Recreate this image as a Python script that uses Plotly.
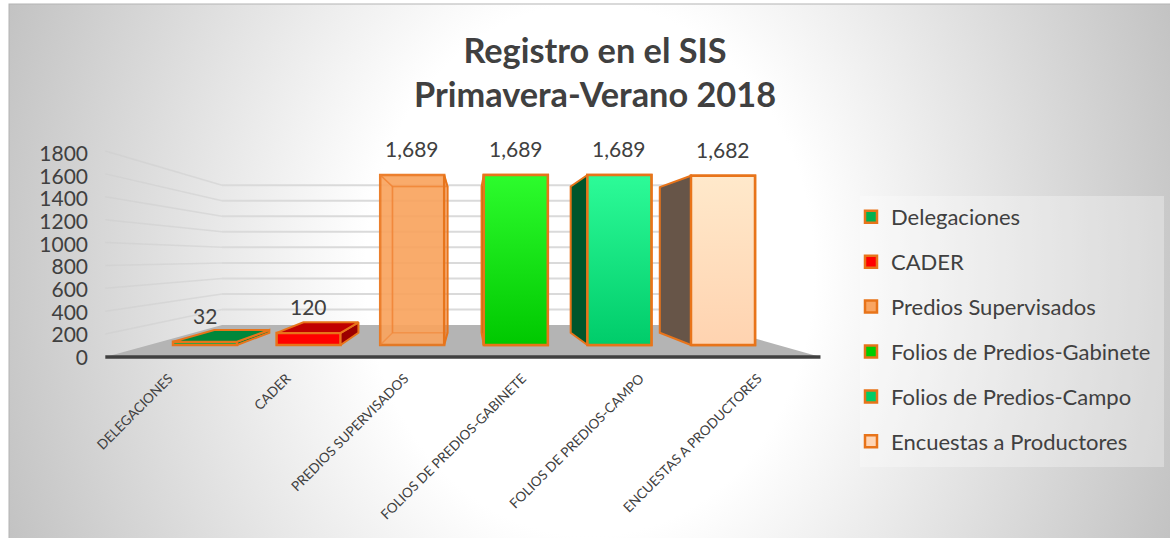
import base64
import plotly.graph_objects as go

CATEGORIES = ["DELEGACIONES", "CADER", "PREDIOS SUPERVISADOS", "FOLIOS DE PREDIOS-GABINETE",
              "FOLIOS DE PREDIOS-CAMPO", "ENCUESTAS A PRODUCTORES"]
SERIES = ["Delegaciones", "CADER", "Predios Supervisados", "Folios de Predios-Gabinete",
          "Folios de Predios-Campo", "Encuestas a Productores"]
VALUES = [32, 120, 1689, 1689, 1689, 1682]
Y_TICKS = [0, 200, 400, 600, 800, 1000, 1200, 1400, 1600, 1800]

FRONT = ["#00b050", "#ff0000", "#f9a561", "#00cc00", "#00cc66", "#ffd5b5"]
SIDE = ["#00803c", "#9c0000", "rgba(240,130,50,0.35)", "#004d12", "#00552b", "#675548"]
TOP = ["#00873b", "#c00000", "rgba(255,150,70,0.25)", "#009000", "#009050", "#e0c0a0"]
GRADIENT = {3: ("#00c800", "#2dfc2d"), 4: ("#00cc6a", "#2dfb98"), 5: ("#ffd3b0", "#ffe9cb")}
EDGE = "#e8741a"
TEXT = "#404040"
FONT = "Lato"

W, H = 1170, 538
# pixel geometry of the bar plane
PX_X0, PX_DX, PX_Y0, PX_DY = 205.0, 103.6, 345.0, 0.10065
BAR = 64 / 103.6
VX, VY = (468 - PX_X0) / PX_DX, (PX_Y0 - 257.5) / PX_DY  # vanishing point
S_AXIS, S_BACK, S_WALL = 1.137, 0.86, 0.771
X_L, X_R = (149 - PX_X0) / PX_DX, (778 - PX_X0) / PX_DX


def proj(x, v, s):
    return VX + (x - VX) * s, VY + (v - VY) * s


def path(pts):
    return "M" + " L".join(f"{a:.4f},{b:.4f}" for a, b in pts) + " Z"


svg = f"""<svg xmlns='http://www.w3.org/2000/svg' width='{W}' height='{H}'>
<defs><radialGradient id='g' gradientUnits='userSpaceOnUse' cx='0' cy='0' r='1'
 gradientTransform='translate(590 270) scale(640 760)'>
<stop offset='0' stop-color='#ffffff'/><stop offset='0.35' stop-color='#ffffff'/>
<stop offset='1' stop-color='#c0c0c0'/></radialGradient></defs>
<rect width='{W}' height='{H}' fill='#ffffff'/>
<rect x='9' y='4' width='{W}' height='{H}' fill='url(#g)' stroke='#b4b4b4' stroke-width='1'/></svg>"""
bg = "data:image/svg+xml;base64," + base64.b64encode(svg.encode()).decode()

shapes = []
# legend panel
shapes.append(dict(type="rect", xref="paper", yref="paper", layer="below",
                   x0=860 / W, x1=1164 / W, y0=1 - 467 / H, y1=1 - 196 / H,
                   fillcolor="rgba(255,255,255,0.3)", line_width=0))
# floor
floor = [proj(X_L, 0, S_AXIS), proj(X_R, 0, S_AXIS), proj(X_R, 0, S_WALL), proj(X_L, 0, S_WALL)]
shapes.append(dict(type="path", layer="below", path=path(floor), fillcolor="#b4b4b4", line_width=0))
# gridlines on the side and back walls
for t in Y_TICKS[1:]:
    a, b, c = proj(X_L, t, S_AXIS), proj(X_L, t, S_WALL), proj(X_R, t, S_WALL)
    shapes.append(dict(type="line", layer="below", x0=a[0], y0=a[1], x1=b[0], y1=b[1],
                       line=dict(color="rgba(205,205,205,0.55)", width=1.5)))
    shapes.append(dict(type="line", layer="below", x0=b[0], y0=b[1], x1=c[0], y1=c[1],
                       line=dict(color="#dadada", width=2)))
# axis base line
a, b = proj(X_L, 0, S_AXIS), proj(X_R, 0, S_AXIS)
shapes.append(dict(type="line", layer="below", x0=a[0], y0=a[1], x1=b[0], y1=b[1],
                   line=dict(color="#404040", width=3.5)))

fig = go.Figure()

# front faces are real bars and carry the legend
for i, (name, v) in enumerate(zip(SERIES, VALUES)):
    fig.add_trace(go.Bar(x=[i], y=[v], width=BAR, name=name, legendgroup=name,
                         marker=dict(color=FRONT[i], line=dict(color=EDGE, width=2.5),
                                     opacity=1 if i != 2 else 0.92),
                         hoverinfo="skip"))


def face(pts, fill, line=EDGE, width=2.0):
    xs = [p[0] for p in pts] + [pts[0][0]]
    ys = [p[1] for p in pts] + [pts[0][1]]
    fig.add_trace(go.Scatter(x=xs, y=ys, mode="lines", fill="toself", fillcolor=fill,
                             line=dict(color=line, width=width), showlegend=False, hoverinfo="skip"))


for i, v in enumerate(VALUES):
    l, r = i - BAR / 2, i + BAR / 2
    if i == 2:
        soft = "rgba(240,130,50,0.55)"
        face([proj(l, 0, S_BACK), proj(r, 0, S_BACK), proj(r, v, S_BACK), proj(l, v, S_BACK)],
             "rgba(255,150,70,0.05)", soft, 1.5)
        face([proj(l, 0, 1), proj(l, 0, S_BACK), proj(l, v, S_BACK), proj(l, v, 1)],
             "rgba(255,150,70,0.05)", soft, 1.5)
        face([proj(l, v, 1), proj(r, v, 1), proj(r, v, S_BACK), proj(l, v, S_BACK)],
             "rgba(255,150,70,0.05)", soft, 1.5)
    side_x = r if r < VX else l
    face([proj(side_x, 0, 1), proj(side_x, 0, S_BACK), proj(side_x, v, S_BACK), proj(side_x, v, 1)], SIDE[i])
    if i < 2:
        face([proj(l, v, 1), proj(r, v, 1), proj(r, v, S_BACK), proj(l, v, S_BACK)], TOP[i])
    if i in GRADIENT:
        lo, hi = GRADIENT[i]
        xs = [l, r, r, l, l]
        ys = [0, 0, v, v, 0]
        fig.add_trace(go.Scatter(x=xs, y=ys, mode="lines", fill="toself",
                                 fillgradient=dict(type="vertical", colorscale=[[0, lo], [1, hi]]),
                                 line=dict(color=EDGE, width=2.5), showlegend=False, hoverinfo="skip"))

# helper trace that keeps the outer (label) axes alive
fig.add_trace(go.Scatter(x=[0], y=[0], xaxis="x2", yaxis="y2", mode="markers",
                         marker=dict(opacity=0), showlegend=False, hoverinfo="skip"))

annotations = [dict(x=i, y=v, text=f"{v:,}", showarrow=False, yshift=26.5, yanchor="middle", xanchor="center",
                    font=dict(family=FONT, size=21, color=TEXT)) for i, v in enumerate(VALUES)]

# outer label plane scale
ax_dx = PX_DX * S_AXIS
ax_x0 = 468 + (PX_X0 - 468) * S_AXIS
ax_dy, ax_y0 = 0.1133, 357.5

fig.update_layout(
    width=W, height=H, margin=dict(l=0, r=0, t=0, b=0, pad=0),
    paper_bgcolor="white", plot_bgcolor="rgba(0,0,0,0)", barmode="overlay",
    images=[dict(source=bg, xref="paper", yref="paper", x=0, y=1, sizex=1, sizey=1,
                 sizing="stretch", layer="below", xanchor="left", yanchor="top")],
    shapes=shapes, annotations=annotations,
    title=dict(text="Registro en el SIS<br>Primavera-Verano 2018", x=595 / W, xanchor="center",
               y=1 - 62.5 / H, yanchor="top",
               font=dict(family=FONT, size=34.3, color=TEXT, weight="bold")),
    xaxis=dict(range=[(0 - PX_X0) / PX_DX, (W - PX_X0) / PX_DX], visible=False, fixedrange=True),
    yaxis=dict(range=[(PX_Y0 - H) / PX_DY, PX_Y0 / PX_DY], visible=False, fixedrange=True),
    xaxis2=dict(range=[(0 - ax_x0) / ax_dx, (W - ax_x0) / ax_dx], overlaying="x", anchor="free",
                position=1 - 367 / H, tickmode="array", tickvals=list(range(len(CATEGORIES))),
                ticktext=CATEGORIES, tickangle=-45, showgrid=False, zeroline=False, showline=False,
                ticks="", tickfont=dict(family=FONT, size=13.5, color=TEXT), fixedrange=True),
    yaxis2=dict(range=[(ax_y0 - H) / ax_dy, ax_y0 / ax_dy], overlaying="y", anchor="free",
                position=88 / W, side="left", tickmode="array", tickvals=Y_TICKS,
                showgrid=False, zeroline=False, showline=False, ticks="",
                tickfont=dict(family=FONT, size=21, color=TEXT), fixedrange=True),
    legend=dict(x=851 / W, y=1 - 196 / H, xanchor="left", yanchor="top", bgcolor="rgba(0,0,0,0)",
                font=dict(family=FONT, size=22, color=TEXT), tracegroupgap=13.3, traceorder="grouped"),
    showlegend=True, hovermode=False,
)

fig.write_html("out.html", config=dict(displayModeBar=False),
               post_script="document.body.style.margin='0';")
